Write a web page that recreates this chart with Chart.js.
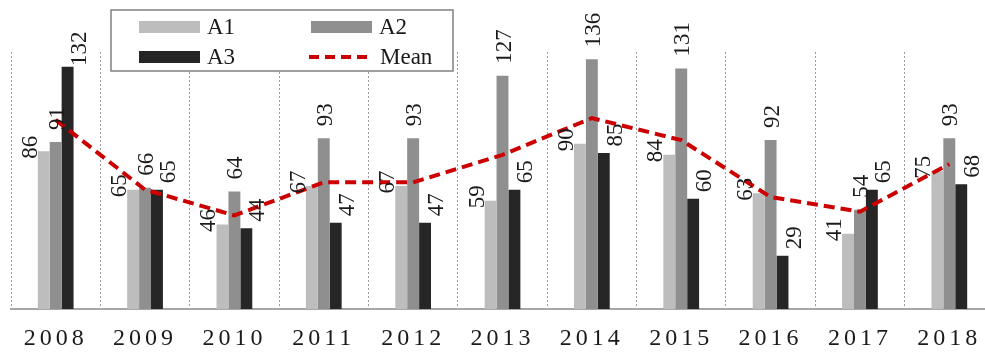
<!DOCTYPE html>
<html>
<head>
<meta charset="utf-8">
<script src="https://cdn.jsdelivr.net/npm/chart.js@4.4.1/dist/chart.umd.min.js"></script>
<style>
  html, body { margin: 0; padding: 0; overflow: hidden; background: #fff; }
  canvas { display: block; }
</style>
</head>
<body>
<canvas id="chart" width="1000" height="353"></canvas>
<script>
// values
const years = ['2008', '2009', '2010', '2011', '2012', '2013', '2014', '2015', '2016', '2017', '2018'];
const a1 = [86, 65, 46, 67, 67, 59, 90, 84, 63, 41, 75];
const a2 = [91, 66, 64, 93, 93, 127, 136, 131, 92, 54, 93];
const a3 = [132, 65, 44, 47, 47, 65, 85, 60, 29, 65, 68];
const meanLine = [103, 65, 51, 69, 69, 84, 104, 92, 61, 53, 79];

const serif = '"Liberation Serif", "Times New Roman", serif';

// letter spaced year labels
const spacing = {
    id: 'spacing',
    beforeDraw(chart) { chart.ctx.letterSpacing = '4px'; },
    beforeDatasetsDraw(chart) { chart.ctx.letterSpacing = '0px'; }
};

// rotated value labels next to / above each bar
const valueLabels = {
    id: 'valueLabels',
    afterDatasetsDraw(chart) {
        const ctx = chart.ctx;
        const place = [
            { dx: -15, dy: -4, align: 'center' },
            { dx: 0, dy: -12, align: 'left' },
            { dx: 10, dy: -18, align: 'center' }
        ];
        ctx.save();
        ctx.font = '23px ' + serif;
        ctx.fillStyle = '#1a1a1a';
        ctx.textBaseline = 'alphabetic';
        for (let d = 0; d < 3; d++) {
            const meta = chart.getDatasetMeta(d);
            const vals = chart.data.datasets[d].data;
            meta.data.forEach((bar, i) => {
                const p = place[d];
                ctx.save();
                ctx.translate(bar.x + p.dx + 8, bar.y + p.dy);
                ctx.rotate(-Math.PI / 2);
                ctx.textAlign = p.align;
                ctx.fillText(String(vals[i]), 0, 0);
                ctx.restore();
            });
        }
        ctx.restore();
    }
};

// boxed 2x2 legend
const boxLegend = {
    id: 'boxLegend',
    afterDraw(chart) {
        const ctx = chart.ctx;
        const ds = chart.data.datasets;
        ctx.save();
        ctx.fillStyle = '#fff';
        ctx.fillRect(111, 10, 342, 61);
        ctx.strokeStyle = '#808080';
        ctx.lineWidth = 1.5;
        ctx.strokeRect(111, 10, 342, 61);
        ctx.font = '23px ' + serif;
        ctx.textBaseline = 'middle';
        const boxes = [[139, 27, 0], [311, 27, 1], [139, 57, 2]];
        boxes.forEach(([x, y, d]) => {
            ctx.fillStyle = ds[d].backgroundColor;
            ctx.fillRect(x, y - 6, 61, 12);
            ctx.fillStyle = '#1a1a1a';
            ctx.fillText(ds[d].label, x + 68, y + 1);
        });
        ctx.strokeStyle = ds[3].borderColor;
        ctx.lineWidth = 4;
        ctx.setLineDash([10, 6]);
        ctx.beginPath();
        ctx.moveTo(309, 57);
        ctx.lineTo(373, 57);
        ctx.stroke();
        ctx.setLineDash([]);
        ctx.fillText(ds[3].label, 380, 58);
        ctx.restore();
    }
};

const ctx1 = document.getElementById('chart').getContext('2d');
new Chart(ctx1, {
    type: 'bar',
    data: {
        labels: years,
        datasets: [{
            label: 'A1',
            data: a1,
            backgroundColor: '#bdbdbd',
            order: 1
        }, {
            label: 'A2',
            data: a2,
            backgroundColor: '#8f8f8f',
            order: 1
        }, {
            label: 'A3',
            data: a3,
            backgroundColor: '#262626',
            order: 1
        }, {
            type: 'line',
            label: 'Mean',
            data: meanLine,
            borderColor: '#cc0000',
            borderWidth: 4,
            borderDash: [11, 6],
            pointRadius: 0,
            tension: 0,
            fill: false,
            order: 0
        }]
    },
    options: {
        responsive: false,
        animation: false,
        categoryPercentage: 0.4,
        barPercentage: 1.0,
        layout: { padding: { top: 52, left: 11, right: 6, bottom: 0 } },
        scales: {
            x: {
                afterFit(scale) { scale.height = 44; },
                grid: { color: '#9a9a9a', lineWidth: 1, drawTicks: false, offset: true },
                border: { display: true, color: '#a6a6a6', width: 2, dash: [2, 2] },
                ticks: {
                    padding: 15,
                    color: '#1a1a1a',
                    font: { family: serif, size: 24 }
                }
            },
            y: {
                display: false,
                min: 0,
                max: 140
            }
        },
        plugins: {
            legend: { display: false },
            tooltip: { enabled: false }
        }
    },
    plugins: [spacing, valueLabels, boxLegend]
});
</script>
</body>
</html>
